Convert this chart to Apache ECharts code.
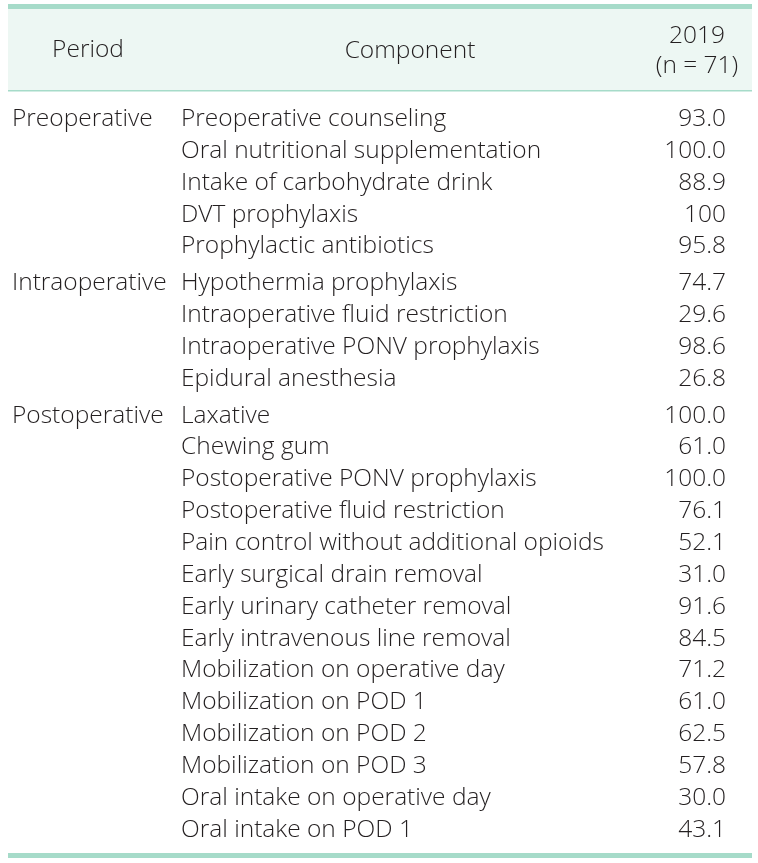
<!DOCTYPE html>
<html><head><meta charset="utf-8">
<script src="https://cdn.jsdelivr.net/npm/echarts@6/dist/echarts.min.js"></script>
<style>html,body{margin:0;padding:0;background:#fff}#c{width:758px;height:863px}</style>
</head><body><div id="c"></div>
<script>
// ---- data ----
const headerPeriod = 'Period';
const headerComponent = 'Component';
const headerYear = '2019';
const headerN = '(n = 71)';
const periods = ['Preoperative', 'Intraoperative', 'Postoperative'];
const periodSizes = [5, 4, 14];
const components = [
  'Preoperative counseling',
  'Oral nutritional supplementation',
  'Intake of carbohydrate drink',
  'DVT prophylaxis',
  'Prophylactic antibiotics',
  'Hypothermia prophylaxis',
  'Intraoperative fluid restriction',
  'Intraoperative PONV prophylaxis',
  'Epidural anesthesia',
  'Laxative',
  'Chewing gum',
  'Postoperative PONV prophylaxis',
  'Postoperative fluid restriction',
  'Pain control without additional opioids',
  'Early surgical drain removal',
  'Early urinary catheter removal',
  'Early intravenous line removal',
  'Mobilization on operative day',
  'Mobilization on POD 1',
  'Mobilization on POD 2',
  'Mobilization on POD 3',
  'Oral intake on operative day',
  'Oral intake on POD 1'
];
const values2019 = [
  '93.0', '100.0', '88.9', '100', '95.8',
  '74.7', '29.6', '98.6', '26.8',
  '100.0', '61.0', '100.0', '76.1', '52.1', '31.0', '91.6', '84.5',
  '71.2', '61.0', '62.5', '57.8', '30.0', '43.1'
];

// ---- layout ----
const ROW_PX = 31.85;
const GROUP_GAP = 5 / ROW_PX;     // extra space between period groups, in row units
const FIRST_ROW_PX = 119;          // pixel center of first body row
const H = 863, W = 758;
const FONT = '340 24.5px "Open Sans"';
const INK = '#231f20';
const RULE = '#a6dbc9';
const HEAD_BG = '#edf7f3';

const rows = [];
let idx = 0;
periods.forEach((p, g) => {
  for (let k = 0; k < periodSizes[g]; k++) {
    rows.push({ pos: idx + g * GROUP_GAP, period: k === 0 ? p : '', comp: components[idx], val: values2019[idx] });
    idx++;
  }
});

const yMin = -FIRST_ROW_PX / ROW_PX;
const yMax = yMin + H / ROW_PX;

const chart = echarts.init(document.getElementById('c'), null, { renderer: 'canvas' });
chart.setOption({
  animation: false,
  backgroundColor: '#fff',
  grid: { left: 0, right: 0, top: 0, bottom: 0 },
  xAxis: { type: 'value', min: 0, max: W, show: false },
  yAxis: { type: 'value', inverse: true, min: yMin, max: yMax, show: false },
  graphic: [
    { type: 'rect', shape: { x: 8, y: 9, width: 744, height: 81 }, style: { fill: HEAD_BG }, z: 0 },
    { type: 'rect', shape: { x: 8, y: 4, width: 744, height: 5 }, style: { fill: RULE }, z: 1 },
    { type: 'rect', shape: { x: 8, y: 90, width: 744, height: 1.5 }, style: { fill: RULE }, z: 1 },
    { type: 'rect', shape: { x: 8, y: 853, width: 744, height: 5 }, style: { fill: RULE }, z: 1 },
    { type: 'text', x: 88, y: 50, style: { text: headerPeriod, font: FONT, fill: INK, align: 'center', verticalAlign: 'middle' }, z: 2 },
    { type: 'text', x: 410, y: 51, style: { text: headerComponent, font: FONT, fill: INK, align: 'center', verticalAlign: 'middle' }, z: 2 },
    { type: 'text', x: 697, y: 36, style: { text: headerYear, font: FONT, fill: INK, align: 'center', verticalAlign: 'middle' }, z: 2 },
    { type: 'text', x: 697, y: 66, style: { text: headerN, font: FONT, fill: INK, align: 'center', verticalAlign: 'middle' }, z: 2 }
  ],
  series: [{
    type: 'custom',
    clip: false,
    data: rows.map(r => [0, r.pos]),
    encode: { x: 0, y: 1 },
    renderItem: function (params, api) {
      const r = rows[params.dataIndex];
      const y = api.coord([0, api.value(1)])[1];
      const children = [];
      if (r.period) {
        children.push({ type: 'text', style: { text: r.period, x: api.coord([12, 0])[0], y: y, font: FONT, fill: INK, align: 'left', verticalAlign: 'middle' } });
      }
      children.push({ type: 'text', style: { text: r.comp, x: api.coord([181, 0])[0], y: y, font: FONT, fill: INK, align: 'left', verticalAlign: 'middle' } });
      children.push({ type: 'text', style: { text: r.val, x: api.coord([726, 0])[0], y: y, font: FONT, fill: INK, align: 'right', verticalAlign: 'middle' } });
      return { type: 'group', children: children };
    }
  }]
});
</script>
</body></html>
